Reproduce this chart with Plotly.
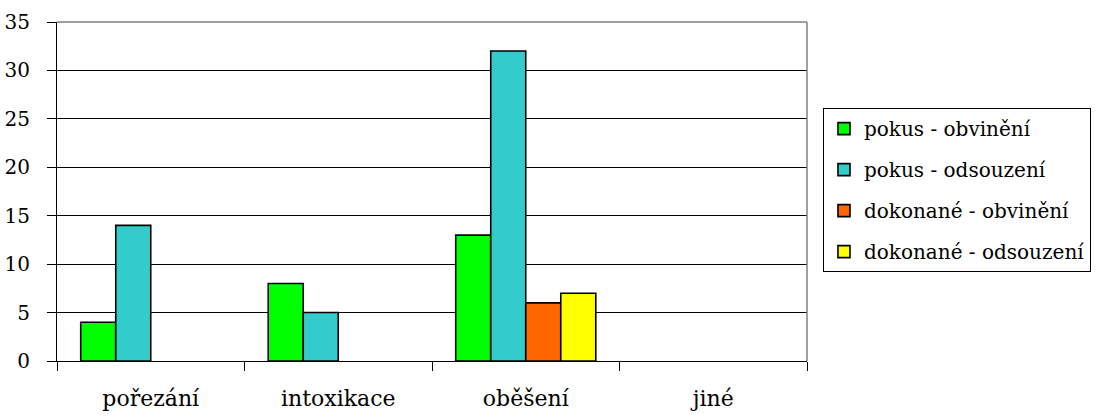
import plotly.graph_objects as go

categories = ["pořezání", "intoxikace", "oběšení", "jiné"]
series_names = ["pokus - obvinění", "pokus - odsouzení", "dokonané - obvinění", "dokonané - odsouzení"]
pokus_obvineni = [4, 8, 13, 0]
pokus_odsouzeni = [14, 5, 32, 0]
dokonane_obvineni = [0, 0, 6, 0]
dokonane_odsouzeni = [0, 0, 7, 0]
y_ticks = [0, 5, 10, 15, 20, 25, 30, 35]

series_values = [pokus_obvineni, pokus_odsouzeni, dokonane_obvineni, dokonane_odsouzeni]
colors = ["#00FF00", "#33CCCC", "#FF6600", "#FFFF00"]

FONT = "DejaVu Serif"

fig = go.Figure()
for i, (name, vals, col) in enumerate(zip(series_names, series_values, colors)):
    # list non-empty bars first so the legend swatch takes the outlined style;
    # the category axis order is fixed separately below
    order = sorted(range(len(vals)), key=lambda k: vals[k] == 0)
    xs = [categories[k] for k in order]
    ys = [vals[k] for k in order]
    # empty bars get no outline so they don't leave a stub on the axis
    outline = [1.6 if v else 0 for v in ys]
    fig.add_trace(go.Bar(
        x=xs, y=ys, name=name, legendgroup=f"g{i}",
        marker=dict(color=col, line=dict(color="#000000", width=outline)),
    ))

fig.update_layout(
    width=1096, height=420,
    margin=dict(l=57, r=289, t=22, b=59, autoexpand=False),
    paper_bgcolor="white", plot_bgcolor="white",
    barmode="group", bargap=0.253, bargroupgap=0,
    font=dict(family=FONT, size=20, color="#000000"),
    legend=dict(
        x=1.0213, y=0.746, xanchor="left", yanchor="top",
        bordercolor="#000000", borderwidth=1,
        font=dict(family=FONT, size=20, color="#000000"),
        tracegroupgap=12, traceorder="grouped",
    ),
    showlegend=True,
)

fig.update_xaxes(
    type="category", categoryorder="array", categoryarray=categories,
    range=[-0.5, 3.5], automargin=False,
    showline=True, linecolor="#000000", linewidth=1,
    ticks="outside", tickson="boundaries", ticklen=9, tickcolor="#000000", tickwidth=1,
    showgrid=False, ticklabelstandoff=18,
    tickfont=dict(family=FONT, size=22),
)
fig.update_yaxes(
    range=[0, 35], tickvals=y_ticks, automargin=False,
    showline=True, linecolor="#000000", linewidth=1,
    ticks="outside", ticklen=9, tickcolor="#000000", tickwidth=1,
    showgrid=True, gridcolor="#000000", gridwidth=1,
    zeroline=False, ticklabelstandoff=13,
    tickfont=dict(family=FONT, size=20),
)

# gray frame along the top and right of the plot area
fig.add_shape(type="line", xref="paper", yref="paper", x0=0, x1=1, y0=1, y1=1,
              line=dict(color="#808080", width=1.5), layer="above")
fig.add_shape(type="line", xref="paper", yref="paper", x0=1, x1=1, y0=0, y1=1,
              line=dict(color="#808080", width=1.5), layer="above")

fig.write_html("out.html")
